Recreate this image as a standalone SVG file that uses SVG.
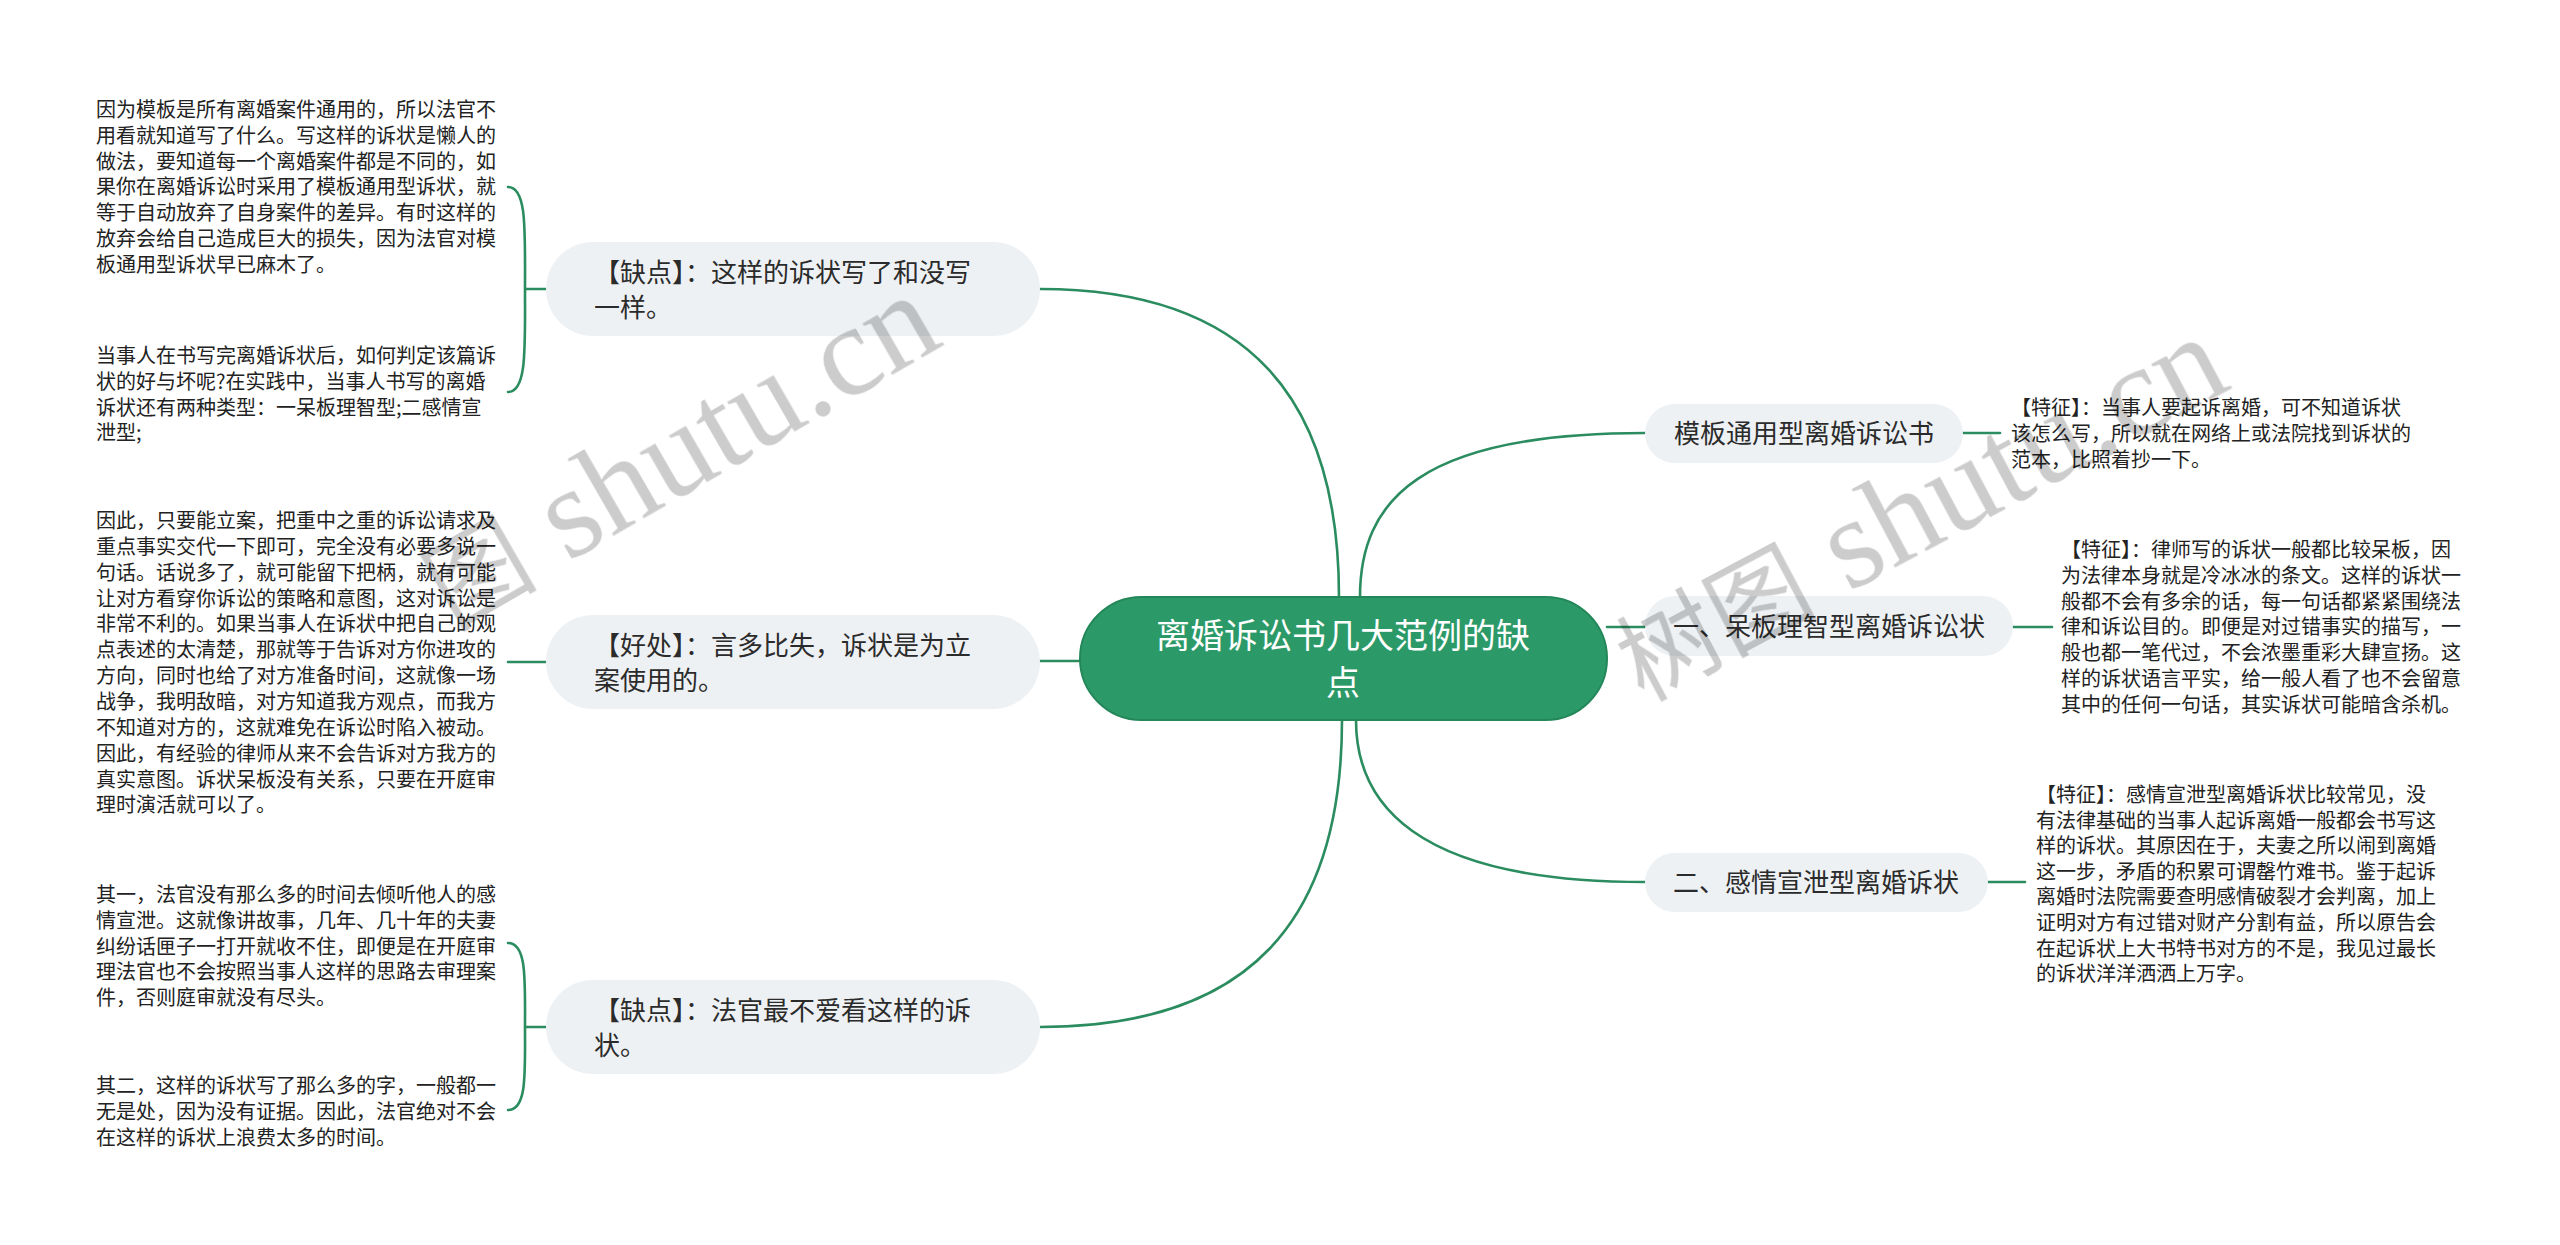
<svg xmlns="http://www.w3.org/2000/svg" width="2560" height="1245" viewBox="0 0 2560 1245">
  <style>
    .wm { font-family: 'Liberation Serif', 'Noto Sans CJK SC', serif; fill: #cccccc; }
    #watermark { mix-blend-mode: multiply; }
    .conn { fill: none; stroke: #2a8c5f; stroke-width: 2.6; stroke-linecap: round; }
    .pill { fill: #eef1f4; }
    .root { fill: #2c9a68; stroke: #24875a; stroke-width: 2; }
    .pt { font-family: 'Noto Sans CJK SC', 'Microsoft YaHei', sans-serif; font-size: 26px; fill: #2b2b2b; }
    .rt { font-family: 'Noto Sans CJK SC', 'Microsoft YaHei', sans-serif; font-size: 34px; fill: #ffffff; text-anchor: middle; }
    .lt { font-family: 'Noto Sans CJK SC', 'Microsoft YaHei', sans-serif; font-size: 20px; fill: #222222; }
  </style>
  <rect width="2560" height="1245" fill="#ffffff"/>

  <g id="connectors">
    <path class="conn" d="M1040,289 C1250,289 1339,400 1339,597"/>
    <path class="conn" d="M1040,661 H1080"/>
    <path class="conn" d="M1342,720 C1342,920 1250,1027 1040,1027"/>
    <path class="conn" d="M1360,597 C1360,500 1420,433 1645,433"/>
    <path class="conn" d="M1607,627 H1645"/>
    <path class="conn" d="M1356,720 C1356,800 1410,882 1645,882"/>
    <path class="conn" d="M546,289 H525 M508,187 C527,187 525,230 525,289 C525,348 527,392 508,392"/>
    <path class="conn" d="M546,662 H508"/>
    <path class="conn" d="M546,1027 H525 M508,943 C527,943 525,980 525,1027 C525,1074 527,1110 508,1110"/>
    <path class="conn" d="M1963,433 H2000"/>
    <path class="conn" d="M2013,627 H2052"/>
    <path class="conn" d="M1988,882 H2025"/>
  </g>

  <g id="node-root">
    <rect class="root" x="1080" y="597" width="527" height="123" rx="61.5"/>
    <text class="rt"><tspan x="1343" y="648">离婚诉讼书几大范例的缺</tspan><tspan x="1343" y="695">点</tspan></text>
  </g>

  <g id="node-quedian1">
    <rect class="pill" x="546" y="242" width="494" height="94" rx="47"/>
    <text class="pt"><tspan x="594" y="282">【缺点】：这样的诉状写了和没写</tspan><tspan x="594" y="317">一样。</tspan></text>
  </g>
  <g id="node-haochu">
    <rect class="pill" x="546" y="615" width="494" height="94" rx="47"/>
    <text class="pt"><tspan x="594" y="655">【好处】：言多比失，诉状是为立</tspan><tspan x="594" y="690">案使用的。</tspan></text>
  </g>
  <g id="node-quedian2">
    <rect class="pill" x="546" y="980" width="494" height="94" rx="47"/>
    <text class="pt"><tspan x="594" y="1020">【缺点】：法官最不爱看这样的诉</tspan><tspan x="594" y="1055">状。</tspan></text>
  </g>

  <g id="node-muban">
    <rect class="pill" x="1645" y="404" width="318" height="59" rx="29.5"/>
    <text class="pt" x="1804" y="443" text-anchor="middle">模板通用型离婚诉讼书</text>
  </g>
  <g id="node-daiban">
    <rect class="pill" x="1645" y="596" width="368" height="60" rx="30"/>
    <text class="pt" x="1829" y="636" text-anchor="middle">一、呆板理智型离婚诉讼状</text>
  </g>
  <g id="node-ganqing">
    <rect class="pill" x="1645" y="853" width="343" height="59" rx="29.5"/>
    <text class="pt" x="1816" y="892" text-anchor="middle">二、感情宣泄型离婚诉状</text>
  </g>

  <g id="text-a">
    <text class="lt"><tspan x="96" y="117">因为模板是所有离婚案件通用的，所以法官不</tspan><tspan x="96" dy="25.8">用看就知道写了什么。写这样的诉状是懒人的</tspan><tspan x="96" dy="25.8">做法，要知道每一个离婚案件都是不同的，如</tspan><tspan x="96" dy="25.8">果你在离婚诉讼时采用了模板通用型诉状，就</tspan><tspan x="96" dy="25.8">等于自动放弃了自身案件的差异。有时这样的</tspan><tspan x="96" dy="25.8">放弃会给自己造成巨大的损失，因为法官对模</tspan><tspan x="96" dy="25.8">板通用型诉状早已麻木了。</tspan></text>
  </g>
  <g id="text-b">
    <text class="lt"><tspan x="96" y="363">当事人在书写完离婚诉状后，如何判定该篇诉</tspan><tspan x="96" dy="25.8">状的好与坏呢?在实践中，当事人书写的离婚</tspan><tspan x="96" dy="25.8">诉状还有两种类型：一呆板理智型;二感情宣</tspan><tspan x="96" dy="25.8">泄型;</tspan></text>
  </g>
  <g id="text-c">
    <text class="lt"><tspan x="96" y="528">因此，只要能立案，把重中之重的诉讼请求及</tspan><tspan x="96" dy="25.85">重点事实交代一下即可，完全没有必要多说一</tspan><tspan x="96" dy="25.85">句话。话说多了，就可能留下把柄，就有可能</tspan><tspan x="96" dy="25.85">让对方看穿你诉讼的策略和意图，这对诉讼是</tspan><tspan x="96" dy="25.85">非常不利的。如果当事人在诉状中把自己的观</tspan><tspan x="96" dy="25.85">点表述的太清楚，那就等于告诉对方你进攻的</tspan><tspan x="96" dy="25.85">方向，同时也给了对方准备时间，这就像一场</tspan><tspan x="96" dy="25.85">战争，我明敌暗，对方知道我方观点，而我方</tspan><tspan x="96" dy="25.85">不知道对方的，这就难免在诉讼时陷入被动。</tspan><tspan x="96" dy="25.85">因此，有经验的律师从来不会告诉对方我方的</tspan><tspan x="96" dy="25.85">真实意图。诉状呆板没有关系，只要在开庭审</tspan><tspan x="96" dy="25.85">理时演活就可以了。</tspan></text>
  </g>
  <g id="text-d">
    <text class="lt"><tspan x="96" y="902">其一，法官没有那么多的时间去倾听他人的感</tspan><tspan x="96" dy="25.8">情宣泄。这就像讲故事，几年、几十年的夫妻</tspan><tspan x="96" dy="25.8">纠纷话匣子一打开就收不住，即便是在开庭审</tspan><tspan x="96" dy="25.8">理法官也不会按照当事人这样的思路去审理案</tspan><tspan x="96" dy="25.8">件，否则庭审就没有尽头。</tspan></text>
  </g>
  <g id="text-e">
    <text class="lt"><tspan x="96" y="1093">其二，这样的诉状写了那么多的字，一般都一</tspan><tspan x="96" dy="25.8">无是处，因为没有证据。因此，法官绝对不会</tspan><tspan x="96" dy="25.8">在这样的诉状上浪费太多的时间。</tspan></text>
  </g>

  <g id="text-muban">
    <text class="lt"><tspan x="2011" y="415">【特征】：当事人要起诉离婚，可不知道诉状</tspan><tspan x="2011" dy="26">该怎么写，所以就在网络上或法院找到诉状的</tspan><tspan x="2011" dy="26">范本，比照着抄一下。</tspan></text>
  </g>
  <g id="text-daiban">
    <text class="lt"><tspan x="2061" y="557">【特征】：律师写的诉状一般都比较呆板，因</tspan><tspan x="2061" dy="25.8">为法律本身就是冷冰冰的条文。这样的诉状一</tspan><tspan x="2061" dy="25.8">般都不会有多余的话，每一句话都紧紧围绕法</tspan><tspan x="2061" dy="25.8">律和诉讼目的。即便是对过错事实的描写，一</tspan><tspan x="2061" dy="25.8">般也都一笔代过，不会浓墨重彩大肆宣扬。这</tspan><tspan x="2061" dy="25.8">样的诉状语言平实，给一般人看了也不会留意</tspan><tspan x="2061" dy="25.8">其中的任何一句话，其实诉状可能暗含杀机。</tspan></text>
  </g>
  <g id="text-ganqing">
    <text class="lt"><tspan x="2036" y="802">【特征】：感情宣泄型离婚诉状比较常见，没</tspan><tspan x="2036" dy="25.6">有法律基础的当事人起诉离婚一般都会书写这</tspan><tspan x="2036" dy="25.6">样的诉状。其原因在于，夫妻之所以闹到离婚</tspan><tspan x="2036" dy="25.6">这一步，矛盾的积累可谓罄竹难书。鉴于起诉</tspan><tspan x="2036" dy="25.6">离婚时法院需要查明感情破裂才会判离，加上</tspan><tspan x="2036" dy="25.6">证明对方有过错对财产分割有益，所以原告会</tspan><tspan x="2036" dy="25.6">在起诉状上大书特书对方的不是，我见过最长</tspan><tspan x="2036" dy="25.6">的诉状洋洋洒洒上万字。</tspan></text>
  </g>

  <g id="watermark">
    <text class="wm" transform="translate(453,629) rotate(-30)"><tspan font-size="100">图</tspan><tspan font-size="130"> shutu.cn</tspan></text>
    <text class="wm" transform="translate(1643,702) rotate(-28)"><tspan font-size="100">树图</tspan><tspan font-size="130"> shutu.cn</tspan></text>
  </g>
</svg>
